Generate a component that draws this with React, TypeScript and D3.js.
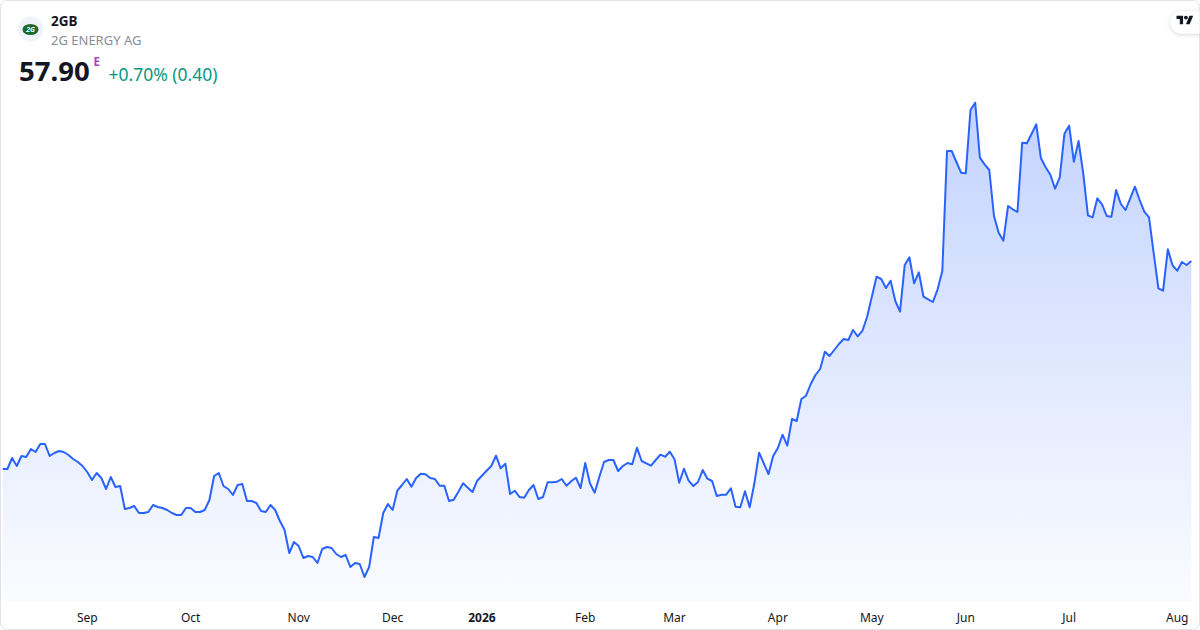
import React from 'react'
import * as d3 from 'd3'

// daily closes, oldest first
const closes: number[] = [
  37.1, 37.1, 38.2, 37.4, 38.4, 38.3, 39.1, 38.8, 39.6, 39.6,
  38.4, 38.7, 38.9, 38.8, 38.5, 38.1, 37.8, 37.4, 36.8, 36.0,
  36.7, 36.2, 35.1, 36.3, 35.3, 35.4, 33.1, 33.2, 33.4, 32.7,
  32.7, 32.8, 33.5, 33.3, 33.2, 33.0, 32.7, 32.5, 32.5, 33.2,
  33.2, 32.8, 32.8, 33.0, 34.0, 36.4, 36.7, 35.4, 35.1, 34.5,
  35.5, 35.6, 33.9, 33.9, 33.7, 32.9, 32.8, 33.5, 33.0, 31.9,
  31.0, 28.7, 29.8, 29.4, 28.2, 28.4, 28.3, 27.7, 29.1, 29.3,
  29.2, 28.6, 28.3, 28.5, 27.3, 27.7, 27.6, 26.3, 27.3, 30.3,
  30.2, 32.7, 33.6, 33.0, 34.93, 35.5, 36.1, 35.33, 36.2, 36.63,
  36.57, 36.2, 36.1, 35.43, 35.43, 33.9, 34.03, 34.83, 35.67, 35.23,
  34.8, 35.93, 36.43, 36.93, 37.4, 38.43, 37.17, 37.63, 34.6, 34.93,
  34.3, 34.23, 35.0, 35.5, 34.1, 34.3, 35.77, 35.77, 35.83, 36.1,
  35.43, 35.87, 36.23, 35.2, 37.7, 35.67, 34.73, 36.33, 37.8, 38.0,
  38.0, 36.9, 37.4, 37.7, 37.57, 39.23, 37.9, 37.67, 37.43, 38.0,
  38.53, 38.33, 38.83, 38.07, 35.73, 37.13, 35.93, 35.4, 35.8, 37.0,
  36.13, 35.9, 34.4, 34.53, 34.53, 35.17, 33.33, 33.27, 34.87, 33.27,
  35.67, 38.73, 37.67, 36.6, 38.4, 39.2, 40.53, 39.43, 42.1, 41.9,
  44.1, 44.43, 45.6, 46.5, 47.1, 48.83, 48.4, 49.0, 49.6, 50.1,
  50.0, 51.0, 50.37, 50.93, 52.33, 54.33, 56.33, 56.1, 55.2, 55.93,
  53.9, 52.83, 57.5, 58.27, 55.67, 56.77, 54.33, 54.07, 53.8, 55.07,
  56.9, 68.9, 68.9, 67.8, 66.73, 66.67, 73.0, 73.73, 68.23, 67.57,
  67.0, 62.4, 60.73, 59.93, 63.4, 63.07, 62.8, 69.73, 69.67, 70.6,
  71.57, 68.17, 67.27, 66.53, 65.13, 66.27, 70.63, 71.43, 67.83, 69.9,
  66.67, 62.47, 62.27, 64.17, 63.57, 62.4, 62.33, 65.0, 63.6, 63.0,
  64.17, 65.33, 64.0, 62.83, 62.27, 58.67, 55.17, 54.93, 59.07, 57.47,
  56.93, 57.8, 57.5, 57.9,
]

// month labels and the bar index they sit on
const tickLabels: string[] = ['Sep', 'Oct', 'Nov', 'Dec', '2026', 'Feb', 'Mar', 'Apr', 'May', 'Jun', 'Jul', 'Aug']
const tickIndex: number[] = [18, 40, 63, 83, 102, 124, 143, 165, 185, 205, 227, 250]

const symbol = '2GB'
const company = '2G ENERGY AG'
const lastPrice = '57.90'
const change = '+0.70% (0.40)'

const W = 1200
const H = 630
const plotBottom = 602
const font = '"Noto Sans", "Open Sans", sans-serif'

const App: React.FC = () => {
  const x = d3.scaleLinear().domain([0, closes.length - 1]).range([2.7, 1191.3])
  const y = d3.scaleLinear().domain([20, 80]).range([640, 40])

  const line = d3.line<number>().x((_, i) => x(i)).y((d) => y(d))
  const area = d3
    .area<number>()
    .x((_, i) => x(i))
    .y0(plotBottom)
    .y1((d) => y(d))

  return (
    <svg
      width={W}
      height={H}
      style={{ position: 'absolute', left: 0, top: 0, fontFamily: font }}
    >
      <defs>
        <linearGradient id="fill" gradientUnits="userSpaceOnUse" x1="0" y1="100" x2="0" y2={plotBottom}>
          <stop offset="0" stopColor="#2962ff" stopOpacity={0.28} />
          <stop offset="1" stopColor="#2962ff" stopOpacity={0.02} />
        </linearGradient>
        <filter id="shadow" x="-50%" y="-50%" width="200%" height="200%">
          <feDropShadow dx="0" dy="1" stdDeviation="2" floodColor="#000" floodOpacity={0.18} />
        </filter>
        <clipPath id="card">
          <rect x={0.5} y={0.5} width={W - 1} height={H - 1} rx={6} />
        </clipPath>
      </defs>

      <rect x={0.5} y={0.5} width={W - 1} height={H - 1} rx={6} fill="#fff" stroke="#e0e3eb" />

      <g clipPath="url(#card)">
        <path d={area(closes) ?? ''} fill="url(#fill)" />
        <path d={line(closes) ?? ''} fill="none" stroke="#2962ff" strokeWidth={2} strokeLinejoin="round" />

        {/* TradingView badge */}
        <rect x={1170.5} y={11} width={50} height={22.5} rx={11.25} fill="#fff" filter="url(#shadow)" />
        <g transform="translate(1176.5,13.8) scale(0.47)" fill="#131722">
          <path d="M14 22H7V11H0V4h14v18zM28 22h-8l7.5-18h8L28 22z" />
          <circle cx={20} cy={8} r={4} />
        </g>
      </g>

      {/* month axis */}
      {tickLabels.map((t, k) => (
        <text
          key={t}
          x={x(tickIndex[k])}
          y={622}
          textAnchor="middle"
          fontSize={12}
          fontWeight={t === '2026' ? 700 : 400}
          fill="#131722"
        >
          {t}
        </text>
      ))}

      {/* header */}
      <circle cx={30.5} cy={29} r={12.5} fill="#f0f3fa" />
      <ellipse cx={30.5} cy={29.5} rx={8} ry={5.5} fill="#1d6b2c" />
      <text x={30.5} y={32} textAnchor="middle" fontSize={7} fontWeight={700} fontStyle="italic" fill="#fff">
        2G
      </text>
      <text x={51} y={26} fontSize={13.5} fontWeight={700} fill="#131722">
        {symbol}
      </text>
      <text x={51} y={45} fontSize={13} fill="#8a8d96">
        {company}
      </text>
      <text x={19} y={81} fontSize={27.5} fontWeight={700} fill="#131722">
        {lastPrice}
      </text>
      <text x={93.5} y={65.5} fontSize={11.5} fontWeight={700} fill="#ab47bc">
        E
      </text>
      <text x={108.5} y={81} fontSize={17.5} fill="#089981">
        {change}
      </text>
    </svg>
  )
}

export default App
